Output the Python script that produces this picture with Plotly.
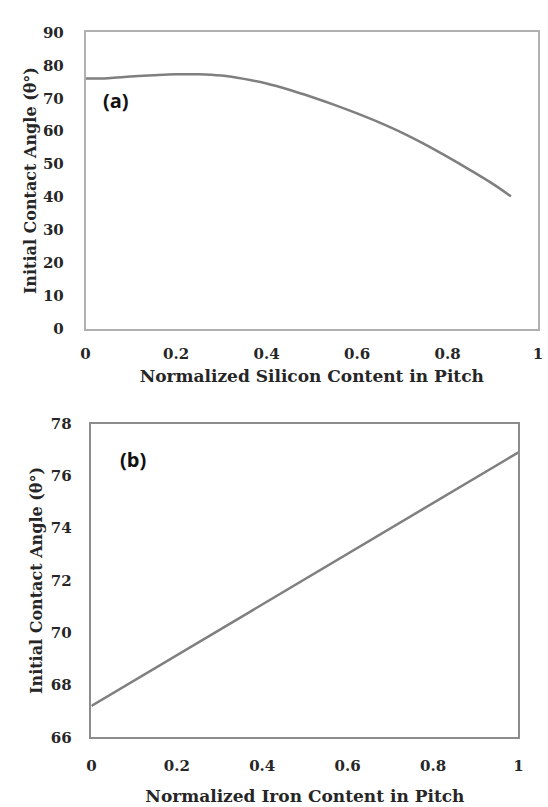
import plotly.graph_objects as go

# (a) contact angle vs normalized silicon content
si_content = [0.0, 0.05, 0.1, 0.15, 0.2, 0.25, 0.3, 0.35, 0.4, 0.45, 0.5,
              0.55, 0.6, 0.65, 0.7, 0.75, 0.8, 0.85, 0.9, 0.94]
si_angle = [76.0, 76.1, 76.6, 77.0, 77.3, 77.3, 76.9, 75.9, 74.5, 72.6, 70.4,
            68.0, 65.4, 62.6, 59.5, 56.0, 52.2, 48.2, 44.0, 40.2]

# (b) contact angle vs normalized iron content
fe_content = [0.0, 1.0]
fe_angle = [67.2, 76.9]

x_ticks = [0, 0.2, 0.4, 0.6, 0.8, 1]
x_tick_text = ["0", "0.2", "0.4", "0.6", "0.8", "1"]
y_ticks_a = [0, 10, 20, 30, 40, 50, 60, 70, 80, 90]
y_ticks_b = [66, 68, 70, 72, 74, 76, 78]

W, H = 548, 807
LINE = "#7f7f7f"
SERIF = "DejaVu Serif, Liberation Serif, serif"
tick_font = dict(family=SERIF, size=15, color="#262626", weight="bold")
xtitle_font = dict(family=SERIF, size=17, color="#262626", weight="bold")
ytitle_font = dict(family=SERIF, size=16, color="#262626", weight="bold")
label_font = dict(family="Open Sans, Noto Sans, sans-serif", size=20,
                  color="#111111", weight="bold")

fig = go.Figure()
fig.add_trace(go.Scatter(x=si_content, y=si_angle, mode="lines",
                         line=dict(color=LINE, width=2.5, shape="spline", smoothing=1.0),
                         xaxis="x", yaxis="y", showlegend=False))
fig.add_trace(go.Scatter(x=fe_content, y=fe_angle, mode="lines",
                         line=dict(color=LINE, width=2.5),
                         xaxis="x2", yaxis="y2", showlegend=False))

def px_x(p):
    return p / W

def px_y(p):
    return 1 - p / H

axis_common = dict(showgrid=False, zeroline=False, ticks="", mirror=True,
                   showline=True, tickfont=tick_font)

fig.update_layout(
    width=W, height=H,
    margin=dict(l=0, r=0, t=0, b=0),
    paper_bgcolor="white", plot_bgcolor="white",
    xaxis=dict(axis_common, domain=[px_x(82), px_x(543)], range=[0, 1],
               tickvals=x_ticks, ticktext=x_tick_text, anchor="y",
               ticklabelstandoff=11,
               linecolor="#b0b0b0", linewidth=1.5,
               title=dict(text="Normalized Silicon Content in Pitch",
                          font=xtitle_font, standoff=8)),
    yaxis=dict(axis_common, domain=[px_y(327), px_y(24)], range=[0, 90],
               tickvals=y_ticks_a, anchor="x", ticklabelstandoff=17,
               linecolor="#b0b0b0", linewidth=1.5,
               title=dict(text="Initial Contact Angle (θ°)",
                          font=ytitle_font, standoff=2)),
    xaxis2=dict(axis_common, domain=[px_x(88), px_x(523)], range=[0, 1],
                tickvals=x_ticks, ticktext=x_tick_text, anchor="y2",
                ticklabelstandoff=14,
                linecolor="#8c8c8c", linewidth=1.5,
                title=dict(text="Normalized Iron Content in Pitch",
                           font=xtitle_font, standoff=16)),
    yaxis2=dict(axis_common, domain=[px_y(745), px_y(424)], range=[66, 78],
                tickvals=y_ticks_b, anchor="x2", ticklabelstandoff=15,
                linecolor="#8c8c8c", linewidth=1.5,
                title=dict(text="Initial Contact Angle (θ°)",
                           font=ytitle_font, standoff=4)),
    annotations=[
        dict(text="(a)", x=px_x(98), y=px_y(94), xref="paper", yref="paper",
             xanchor="left", yanchor="middle", showarrow=False, font=label_font),
        dict(text="(b)", x=px_x(115), y=px_y(461), xref="paper", yref="paper",
             xanchor="left", yanchor="middle", showarrow=False, font=label_font),
    ],
)

fig.write_html("out.html")
